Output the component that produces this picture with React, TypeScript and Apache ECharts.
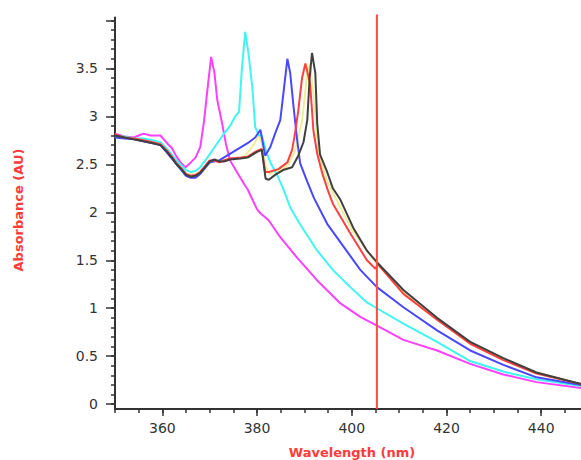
import React, { useEffect, useRef } from "react";
import * as echarts from "echarts";

// ---- Data ----
const magentaNm = [350, 352, 354, 355, 356, 357.5, 359.6, 361, 362, 363, 364, 364.9, 366, 367, 368, 368.8, 369.5, 370.3, 371, 371.6, 372.6, 373.4, 374.3, 376, 377.2, 378, 380, 380.7, 382.4, 384.9, 388.4, 392.7, 397.6, 401.8, 405.3, 410.9, 418, 425, 432, 439, 448.4];
const magentaAbs = [2.82, 2.79, 2.78, 2.8, 2.82, 2.8, 2.8, 2.72, 2.67, 2.58, 2.51, 2.47, 2.52, 2.57, 2.68, 2.95, 3.27, 3.62, 3.45, 3.17, 2.93, 2.72, 2.54, 2.4, 2.3, 2.24, 2.03, 1.99, 1.92, 1.74, 1.53, 1.29, 1.05, 0.91, 0.82, 0.67, 0.56, 0.42, 0.31, 0.23, 0.17];

const cyanNm = [350, 352, 354, 356, 358, 359.6, 361, 362, 363, 364, 365, 366, 367, 368, 369.5, 371.6, 373, 374.3, 375.4, 376.2, 376.8, 377.5, 378.2, 379, 379.6, 380.4, 381, 382, 383, 384.3, 385.5, 387, 389, 392.7, 396, 399.7, 403.2, 405.3, 410.9, 418, 425, 432, 439, 448.4];
const cyanAbs = [2.8, 2.79, 2.77, 2.77, 2.75, 2.73, 2.66, 2.6, 2.54, 2.49, 2.44, 2.42, 2.43, 2.47, 2.57, 2.72, 2.82, 2.9, 3.0, 3.05, 3.5, 3.88, 3.65, 3.3, 2.89, 2.8, 2.8, 2.62, 2.5, 2.38, 2.25, 2.05, 1.88, 1.6, 1.4, 1.22, 1.06, 1.0, 0.84, 0.65, 0.45, 0.34, 0.26, 0.19];

const blueNm = [350, 352, 354, 356, 358, 359.6, 361, 362, 363, 364, 365, 366, 367, 368, 369, 370, 372, 374, 376, 378, 379.6, 380.7, 381.7, 382.8, 383.8, 384.9, 385.7, 386.4, 387, 387.7, 388.4, 389.1, 390.6, 392, 394.8, 398.3, 401.8, 405.3, 410.9, 418, 425, 432, 439, 448.4];
const blueAbs = [2.78, 2.77, 2.76, 2.74, 2.72, 2.7, 2.62, 2.56, 2.5, 2.44, 2.38, 2.36, 2.36, 2.4, 2.46, 2.52, 2.54, 2.6, 2.66, 2.72, 2.78, 2.86, 2.59, 2.68, 2.82, 2.96, 3.3, 3.6, 3.45, 3.1, 2.78, 2.51, 2.32, 2.15, 1.88, 1.64, 1.4, 1.22, 1.01, 0.77, 0.56, 0.41, 0.28, 0.2];

const redNm = [350, 352, 354, 356, 358, 359.6, 361, 362, 363, 364, 365, 366, 367, 368, 369, 370, 371, 372, 373, 374.3, 376.5, 378, 380, 381, 381.7, 382.5, 384.5, 386.4, 387.4, 388, 388.7, 389.5, 390.2, 391.2, 391.9, 392.7, 393.8, 395, 396, 399.7, 403.2, 405, 405.5, 410.9, 418, 425, 432, 439, 448.4];
const redAbs = [2.81, 2.78, 2.77, 2.75, 2.73, 2.71, 2.64, 2.58, 2.51, 2.46, 2.4, 2.38, 2.39, 2.42, 2.48, 2.54, 2.54, 2.52, 2.54, 2.56, 2.57, 2.58, 2.64, 2.66, 2.42, 2.42, 2.45, 2.52, 2.65, 2.82, 3.06, 3.4, 3.55, 3.34, 2.85, 2.61, 2.4, 2.22, 2.09, 1.78, 1.5, 1.41, 1.46, 1.15, 0.88, 0.63, 0.46, 0.32, 0.21];

const blackNm = [350, 352, 354, 356, 358, 359.6, 361, 362, 363, 364, 365, 366, 367, 368, 369, 370, 371, 372, 373, 374.3, 376.5, 378, 380, 381, 381.8, 382.5, 383.8, 385.5, 387.4, 388.7, 389.8, 390.6, 391.1, 391.6, 392.3, 392.7, 393.3, 394.8, 396, 397.6, 400.3, 403.2, 405.3, 410.9, 418, 425, 432, 439, 448.4];
const blackAbs = [2.8, 2.78, 2.76, 2.74, 2.72, 2.7, 2.63, 2.57, 2.5, 2.45, 2.39, 2.37, 2.38, 2.41, 2.47, 2.53, 2.55, 2.53, 2.53, 2.55, 2.56, 2.57, 2.63, 2.65, 2.35, 2.34, 2.39, 2.44, 2.47, 2.59, 2.73, 2.96, 3.4, 3.66, 3.45, 2.93, 2.6, 2.42, 2.25, 2.13, 1.84, 1.6, 1.48, 1.19, 0.9, 0.65, 0.48, 0.33, 0.21];

const yellowNm = [350, 355, 360, 363, 365, 367, 369, 371, 374, 377, 378, 379.5, 380.3, 381, 381.7, 382.5, 384.5, 386.5, 388, 389.5, 390.6, 391.2, 392, 393, 395, 400, 405.3, 411, 418, 425, 432, 439, 448.4];
const yellowAbs = [2.8, 2.76, 2.7, 2.52, 2.4, 2.39, 2.47, 2.54, 2.55, 2.57, 2.62, 2.72, 2.8, 2.72, 2.5, 2.4, 2.43, 2.49, 2.64, 2.95, 3.45, 3.55, 3.2, 2.6, 2.3, 1.82, 1.46, 1.17, 0.89, 0.64, 0.47, 0.33, 0.21];

const markerNm = 405.3;

const xMajorTicks = [360, 380, 400, 420, 440];
const xMinorTicks = [350, 355, 360, 365, 370, 375, 380, 385, 390, 395, 400, 405, 410, 415, 420, 425, 430, 435, 440, 445];
const yLabelTicks = [0, 0.5, 1, 1.5, 2, 2.5, 3, 3.5];
const yMajorTicks = [0, 0.5, 1, 1.5, 2, 2.5, 3, 3.5, 4];
const yMinorTicks: number[] = [];
for (let i = 0; i <= 40; i++) yMinorTicks.push(Math.round(i) / 10);

const X_MIN = 350;
const X_MAX = 448.4;
const Y_MIN = -0.05;
const Y_MAX = 4.03;

const zip = (xs: number[], ys: number[]) => xs.map((x, i) => [x, ys[i]]);

const AXIS_COLOR = "#333333";
const LABEL_FONT = "DejaVu Sans";

export default function App() {
  const ref = useRef<HTMLDivElement>(null);

  useEffect(() => {
    if (!ref.current) return;
    const chart = echarts.init(ref.current, undefined, { renderer: "svg" });

    const lineSeries = (name: string, xs: number[], ys: number[], color: string, z: number) => ({
      name,
      type: "line",
      data: zip(xs, ys),
      showSymbol: false,
      symbol: "none",
      smooth: false,
      z,
      lineStyle: { color, width: 2 },
      itemStyle: { color },
    });

    chart.setOption({
      animation: false,
      backgroundColor: "#ffffff",
      grid: { left: 115, right: 0, top: 17.5, bottom: 51, containLabel: false },
      xAxis: [
        {
          type: "value",
          min: X_MIN,
          max: X_MAX,
          position: "bottom",
          axisLine: { show: true, onZero: false, lineStyle: { color: AXIS_COLOR, width: 2 } },
          axisTick: { show: true, customValues: xMajorTicks, length: 7, lineStyle: { color: AXIS_COLOR, width: 1.5 } },
          axisLabel: { customValues: xMajorTicks, margin: 12, color: AXIS_COLOR, fontFamily: LABEL_FONT, fontSize: 14 },
          splitLine: { show: false },
        },
        {
          type: "value",
          min: X_MIN,
          max: X_MAX,
          position: "bottom",
          axisLine: { show: false, onZero: false },
          axisTick: { show: true, customValues: xMinorTicks, length: 4, lineStyle: { color: AXIS_COLOR, width: 1.5 } },
          axisLabel: { show: false },
          splitLine: { show: false },
        },
      ],
      yAxis: [
        {
          type: "value",
          min: Y_MIN,
          max: Y_MAX,
          position: "left",
          axisLine: { show: true, onZero: false, lineStyle: { color: AXIS_COLOR, width: 2 } },
          axisTick: { show: true, customValues: yMajorTicks, length: 9, lineStyle: { color: AXIS_COLOR, width: 1.5 } },
          axisLabel: { customValues: yLabelTicks, margin: 17, color: AXIS_COLOR, fontFamily: LABEL_FONT, fontSize: 14 },
          splitLine: { show: false },
        },
        {
          type: "value",
          min: Y_MIN,
          max: Y_MAX,
          position: "left",
          axisLine: { show: false, onZero: false },
          axisTick: { show: true, customValues: yMinorTicks, length: 4, lineStyle: { color: AXIS_COLOR, width: 1.5 } },
          axisLabel: { show: false },
          splitLine: { show: false },
        },
      ],
      series: [
        lineSeries("Yellow", yellowNm, yellowAbs, "#eeee99", 1),
        lineSeries("Magenta", magentaNm, magentaAbs, "#ff40ff", 2),
        lineSeries("Cyan", cyanNm, cyanAbs, "#40f4f4", 3),
        lineSeries("Blue", blueNm, blueAbs, "#4848ff", 4),
        lineSeries("Red", redNm, redAbs, "#ff4040", 5),
        lineSeries("Black", blackNm, blackAbs, "#404040", 6),
        {
          name: "Marker",
          type: "line",
          data: [
            [markerNm, Y_MIN],
            [markerNm, 4.06],
          ],
          showSymbol: false,
          symbol: "none",
          clip: false,
          z: 10,
          lineStyle: { color: "#ff4a4a", width: 2 },
        },
      ],
      graphic: [
        {
          type: "text",
          x: 352,
          y: 452,
          style: {
            text: "Wavelength (nm)",
            fill: "#ff3b3b",
            font: "bold 13px 'DejaVu Sans'",
            textAlign: "center",
            textVerticalAlign: "middle",
          },
        },
        {
          type: "text",
          x: 18,
          y: 210,
          rotation: Math.PI / 2,
          style: {
            text: "Absorbance (AU)",
            fill: "#ff3b3b",
            font: "bold 13px 'DejaVu Sans'",
            textAlign: "center",
            textVerticalAlign: "middle",
          },
        },
      ],
    });

    return () => {
      chart.dispose();
    };
  }, []);

  return (
    <div
      ref={ref}
      style={{ position: "fixed", left: 0, top: 0, width: 581, height: 460, background: "#fff" }}
    />
  );
}
